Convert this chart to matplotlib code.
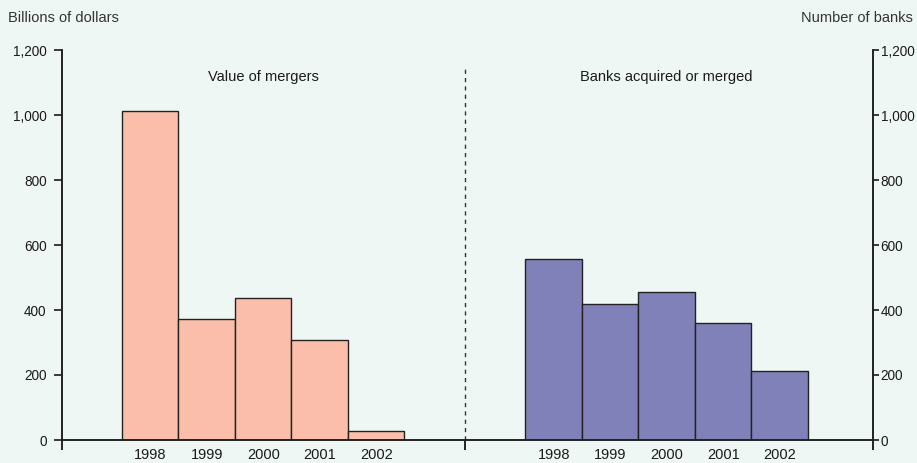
import matplotlib.pyplot as plt
import numpy as np

# data
years = ["1998", "1999", "2000", "2001", "2002"]
merger_value = [1012, 372, 438, 308, 28]      # billions of dollars
banks_merged = [557, 418, 455, 360, 212]      # number of banks
yticks = [0, 200, 400, 600, 800, 1000, 1200]
ytick_labels = ["0", "200", "400", "600", "800", "1,000", "1,200"]

bg = "#eff7f5"
salmon = "#fbbeaa"
purple = "#8181b9"
ink = "#1a1a1a"

plt.rcParams["font.family"] = ["Liberation Sans", "DejaVu Sans"]
plt.rcParams["font.size"] = 10.5

fig = plt.figure(figsize=(9.17, 4.63), dpi=100, facecolor=bg)
ax = fig.add_axes([62 / 917, 23 / 463, 811 / 917, 390 / 463], facecolor=bg)

left_pos = np.arange(5) + 1.56
right_pos = np.arange(5) + 8.70
ax.bar(left_pos, merger_value, width=1.0, color=salmon, edgecolor="#222222", linewidth=1)
ax.bar(right_pos, banks_merged, width=1.0, color=purple, edgecolor="#222222", linewidth=1)

ax.set_xlim(0, 14.35)
ax.set_ylim(0, 1200)
ax.vlines(7.13, 0, 1145, colors="#333333", linestyles=(0, (3, 3)), linewidth=1)

ax.set_xticks(np.concatenate([left_pos, right_pos]))
ax.set_xticklabels(years + years)
ax.tick_params(axis="x", length=0, pad=6, colors=ink)
ax.set_xticks([0, 7.13, 14.35], minor=True)
ax.tick_params(axis="x", which="minor", length=7, direction="out", width=1.2)

ax.set_yticks(yticks)
ax.set_yticklabels(ytick_labels)
ax.tick_params(axis="y", length=6, width=1.2, pad=5, colors=ink, labelsize=9.8)

ax2 = ax.twinx()
ax2.set_ylim(0, 1200)
ax2.set_yticks(yticks)
ax2.set_yticklabels(ytick_labels)
ax2.tick_params(axis="y", length=4, width=1.2, pad=1.5, colors=ink, labelsize=9.8)

for a in (ax, ax2):
    a.spines["top"].set_visible(False)
    for s in ("left", "right", "bottom"):
        a.spines[s].set_linewidth(1.2)
        a.spines[s].set_color("#222222")

ax.text(3.56, 1117, "Value of mergers", ha="center", va="center", color=ink)
ax.text(10.70, 1117, "Banks acquired or merged", ha="center", va="center", color=ink)

fig.text(8 / 917, 1 - 18 / 463, "Billions of dollars", ha="left", va="center", color="#333333")
fig.text(913 / 917, 1 - 18 / 463, "Number of banks", ha="right", va="center", color="#333333")

fig.savefig("out.png", dpi=100, facecolor=bg)
